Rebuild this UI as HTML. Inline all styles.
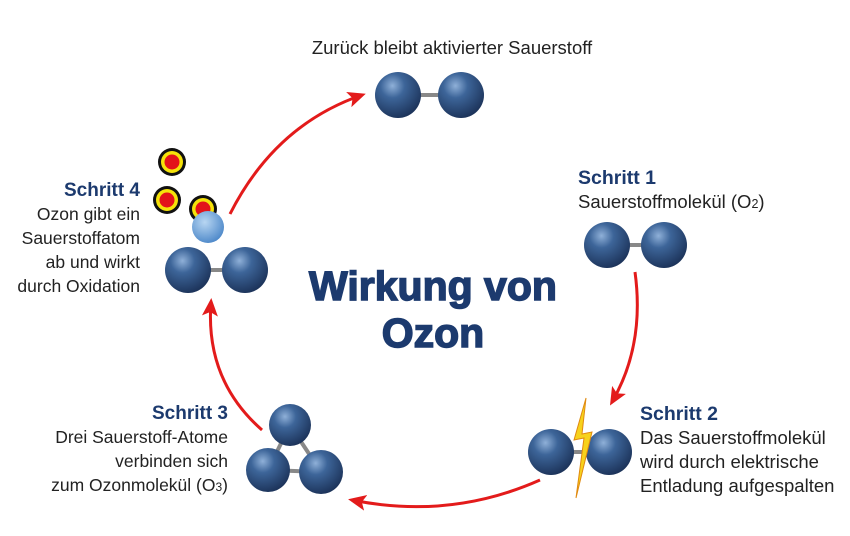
<!DOCTYPE html>
<html><head><meta charset="utf-8"><style>
body{margin:0;background:#fff;}
svg{display:block;font-family:"Liberation Sans",Arial,sans-serif;}
</style></head><body>
<svg width="850" height="536" viewBox="0 0 850 536" xmlns="http://www.w3.org/2000/svg">
<defs>
<radialGradient id="b" cx="0.38" cy="0.3" r="0.75">
<stop offset="0" stop-color="#8fb0d8"/><stop offset="0.35" stop-color="#3d6599"/><stop offset="1" stop-color="#1a3056"/></radialGradient>
<radialGradient id="lb" cx="0.4" cy="0.35" r="0.7">
<stop offset="0" stop-color="#b8d6f2"/><stop offset="1" stop-color="#4a86c8"/></radialGradient>
<marker id="ar" markerWidth="18" markerHeight="18" refX="14" refY="9" orient="auto" markerUnits="userSpaceOnUse" viewBox="0 0 18 18">
<path d="M0,1 L18,9 L0,17 L4,9z" fill="#e31b1b"/></marker>
</defs>
<g fill="none" stroke="#e31b1b" stroke-width="3">
<path d="M230,214 Q275,125 362,95" marker-end="url(#ar)"/>
<path d="M635,272 Q645,345 612,402" marker-end="url(#ar)"/>
<path d="M540,480 Q450,520 352,500" marker-end="url(#ar)"/>
<path d="M262,430 Q205,380 211,302" marker-end="url(#ar)"/>
</g>
<g stroke="#888" stroke-width="4">
<line x1="398" y1="95" x2="461" y2="95"/>
<line x1="607" y1="245" x2="664" y2="245"/>
<line x1="551" y1="452" x2="609" y2="452"/>
<line x1="188" y1="270" x2="245" y2="270"/>
<line x1="290" y1="425" x2="268" y2="470"/><line x1="290" y1="425" x2="321" y2="472"/><line x1="268" y1="470" x2="321" y2="472"/>
</g>
<g fill="url(#b)">
<circle cx="398" cy="95" r="23"/><circle cx="461" cy="95" r="23"/>
<circle cx="607" cy="245" r="23"/><circle cx="664" cy="245" r="23"/>
<circle cx="551" cy="452" r="23"/><circle cx="609" cy="452" r="23"/>
<circle cx="188" cy="270" r="23"/><circle cx="245" cy="270" r="23"/>
<circle cx="290" cy="425" r="21"/><circle cx="268" cy="470" r="22"/><circle cx="321" cy="472" r="22"/>
</g>
<path d="M586,398 L574,440 L584,438 L576,498 L592,432 L582,434 Z" fill="#f7d21c" stroke="#e08a10" stroke-width="1"/>
<g>
<circle cx="172" cy="162" r="14" fill="#111"/><circle cx="172" cy="162" r="11" fill="#f5e20a"/><circle cx="172" cy="162" r="7.5" fill="#e3121a"/>
<circle cx="167" cy="200" r="14" fill="#111"/><circle cx="167" cy="200" r="11" fill="#f5e20a"/><circle cx="167" cy="200" r="7.5" fill="#e3121a"/>
<circle cx="203" cy="209" r="14" fill="#111"/><circle cx="203" cy="209" r="11" fill="#f5e20a"/><circle cx="203" cy="209" r="7.5" fill="#e3121a"/>
</g>
<circle cx="208" cy="227" r="16" fill="url(#lb)"/>
<g fill="#1c3a6e" stroke="#1c3a6e" stroke-width="1.5" font-weight="bold" text-anchor="middle" font-size="41">
<text x="433" y="300">Wirkung von</text><text x="433" y="347">Ozon</text>
</g>
<g font-size="18.5" fill="#222">
<text x="452" y="54" text-anchor="middle">Zurück bleibt aktivierter Sauerstoff</text>
<text x="578" y="184" font-weight="bold" fill="#1c3a6e" font-size="19.5">Schritt 1</text>
<text x="578" y="208">Sauerstoffmolekül (O<tspan font-size="12.5">2</tspan>)</text>
<text x="640" y="420" font-weight="bold" fill="#1c3a6e" font-size="19.5">Schritt 2</text>
<text x="640" y="444">Das Sauerstoffmolekül</text>
<text x="640" y="468">wird durch elektrische</text>
<text x="640" y="492">Entladung aufgespalten</text>
<g text-anchor="end" font-size="17.5">
<text x="228" y="419" font-weight="bold" fill="#1c3a6e" font-size="19">Schritt 3</text>
<text x="228" y="443">Drei Sauerstoff-Atome</text>
<text x="228" y="467">verbinden sich</text>
<text x="228" y="491">zum Ozonmolekül (O<tspan font-size="12">3</tspan>)</text>
<text x="140" y="196" font-weight="bold" fill="#1c3a6e" font-size="19">Schritt 4</text>
<text x="140" y="220">Ozon gibt ein</text>
<text x="140" y="244">Sauerstoffatom</text>
<text x="140" y="268">ab und wirkt</text>
<text x="140" y="292">durch Oxidation</text>
</g>
</g>
</svg>
</body></html>
